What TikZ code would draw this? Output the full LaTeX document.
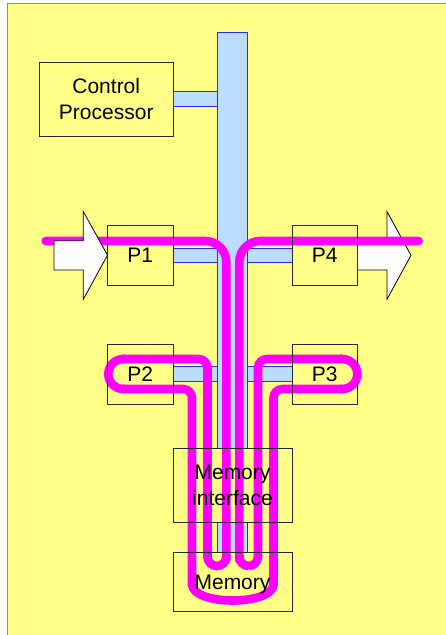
\documentclass[tikz,border=0pt]{standalone}
\usepackage{fontspec}
\setmainfont{Liberation Sans}
\usetikzlibrary{calc}
\definecolor{bgyellow}{RGB}{255,255,136}
\definecolor{bgborder}{RGB}{150,150,60}
\definecolor{busfill}{RGB}{187,221,255}
\definecolor{busline}{RGB}{40,40,255}
\definecolor{mag}{RGB}{255,0,255}
\begin{document}
\begin{tikzpicture}[x=1pt,y=-1pt,
  box/.style={draw=black!85,line width=0.8pt,inner sep=0pt,outer sep=0pt,
    font=\fontsize{21}{26}\selectfont,align=center},
  boxfill/.style={box,fill=bgyellow},
  busbar/.style={draw=busline,fill=busfill,line width=0.8pt,inner sep=0pt,outer sep=0pt},
  magline/.style={draw=mag,line width=8.6pt,line cap=butt},
  bigarrow/.style={draw=black,fill=white,line width=0.8pt,line join=miter}]
\useasboundingbox (0,0) rectangle (446,635);
\clip (0,0) rectangle (446,635);
\draw[fill=bgyellow,draw=bgborder,line width=1pt] (7.5,3.5) rectangle (470,660);
% bus
\node[busbar,minimum width=29.9pt,minimum height=519.8pt] (bus) at (232.65,292.4) {};
% boxes (fills / positions)
\node[boxfill,minimum width=133.5pt,minimum height=74pt] (cp) at (106.25,99) {Control\\Processor};
\node[box,minimum width=65.5pt,minimum height=59.7pt] (p1) at (140.25,255.15) {};
\node[box,minimum width=65.5pt,minimum height=59.7pt] (p4) at (324.75,255.15) {};
\node[box,minimum width=65.5pt,minimum height=59.7pt] (p2) at (140.25,374.15) {};
\node[box,minimum width=65.5pt,minimum height=59.7pt] (p3) at (324.75,374.15) {};
\node[boxfill,draw=none,minimum width=119pt,minimum height=74.4pt] (mi) at (232.5,485.5) {};
\node[boxfill,draw=none,minimum width=119pt,minimum height=59.4pt] (mem) at (232.5,582) {};
% bus connectors
\draw[busbar] ($(cp.east)+(0,-7.5)$) rectangle ($(bus.west |- cp.east)+(0,7.5)$);
\draw[busbar] ($(p1.east)+(0,-7.2)$) rectangle ($(bus.west |- p1.east)+(0,7.2)$);
\draw[busbar] ($(p2.east)+(0,-7.7)$) rectangle ($(bus.west |- p2.east)+(0,7.7)$);
\draw[busbar] ($(bus.east |- p4.west)+(0,-7.2)$) rectangle ($(p4.west)+(0,7.2)$);
\draw[busbar] ($(bus.east |- p3.west)+(0,-7.7)$) rectangle ($(p3.west)+(0,7.7)$);
% right (output) arrow, below the magenta line
\draw[bigarrow] (p4.east |- 0,240.7) -- (387,240.7) -- (387,211.5) -- (411,255.3)
  -- (387,299.3) -- (387,270) -- (p4.east |- 0,270) -- cycle;
% magenta data path
\draw[magline,line cap=round,rounded corners=21] (45.7,241) -- (226.3,241) -- (226.3,560);
\draw[magline,rounded corners=9.4] (226.3,555) -- (226.3,566) -- (207.5,566) -- (207.5,555);
\draw[magline,rounded corners=9] (207.5,557) -- (207.5,359) -- (122,359);
\draw[magline,rounded corners=15] (125,359) -- (108.3,359) -- (108.3,389) -- (125,389);
\draw[magline,rounded corners=9] (122,389) -- (192,389) -- (192,586);
\draw[magline] (192,584) .. controls (192,606) and (273.5,606) .. (273.5,584);
\draw[magline,rounded corners=9] (273.5,586) -- (273.5,389) -- (343,389);
\draw[magline,rounded corners=15] (340,389) -- (357.3,389) -- (357.3,359) -- (340,359);
\draw[magline,rounded corners=9] (343,359) -- (258,359) -- (258,557);
\draw[magline,rounded corners=9.35] (258,555) -- (258,566) -- (239.3,566) -- (239.3,555);
\draw[magline,line cap=round,rounded corners=21] (239.3,560) -- (239.3,241) -- (418.7,241);
% left (input) arrow, above the magenta line
\draw[bigarrow] (54,240.7) -- (83.3,240.7) -- (83.3,211.5) -- (p1.west)
  -- (83.3,299.3) -- (83.3,270) -- (54,270) -- cycle;
% outlines and labels on top
\node[box,fill=none,minimum width=119pt,minimum height=74.4pt] at (mi) {Memory\\interface};
\node[box,fill=none,minimum width=119pt,minimum height=59.4pt,text depth=0pt] at (mem) {Memory};
\node[box,draw=none] at (p1) {P1};
\node[box,draw=none] at (p4) {P4};
\node[box,draw=none] at (p2) {P2};
\node[box,draw=none] at (p3) {P3};
\draw[draw=black!85,line width=0.8pt] (p1.north west) rectangle (p1.south east)
  (p2.north west) rectangle (p2.south east)
  (p3.north west) rectangle (p3.south east)
  (p4.north west) rectangle (p4.south east);
\end{tikzpicture}
\end{document}
